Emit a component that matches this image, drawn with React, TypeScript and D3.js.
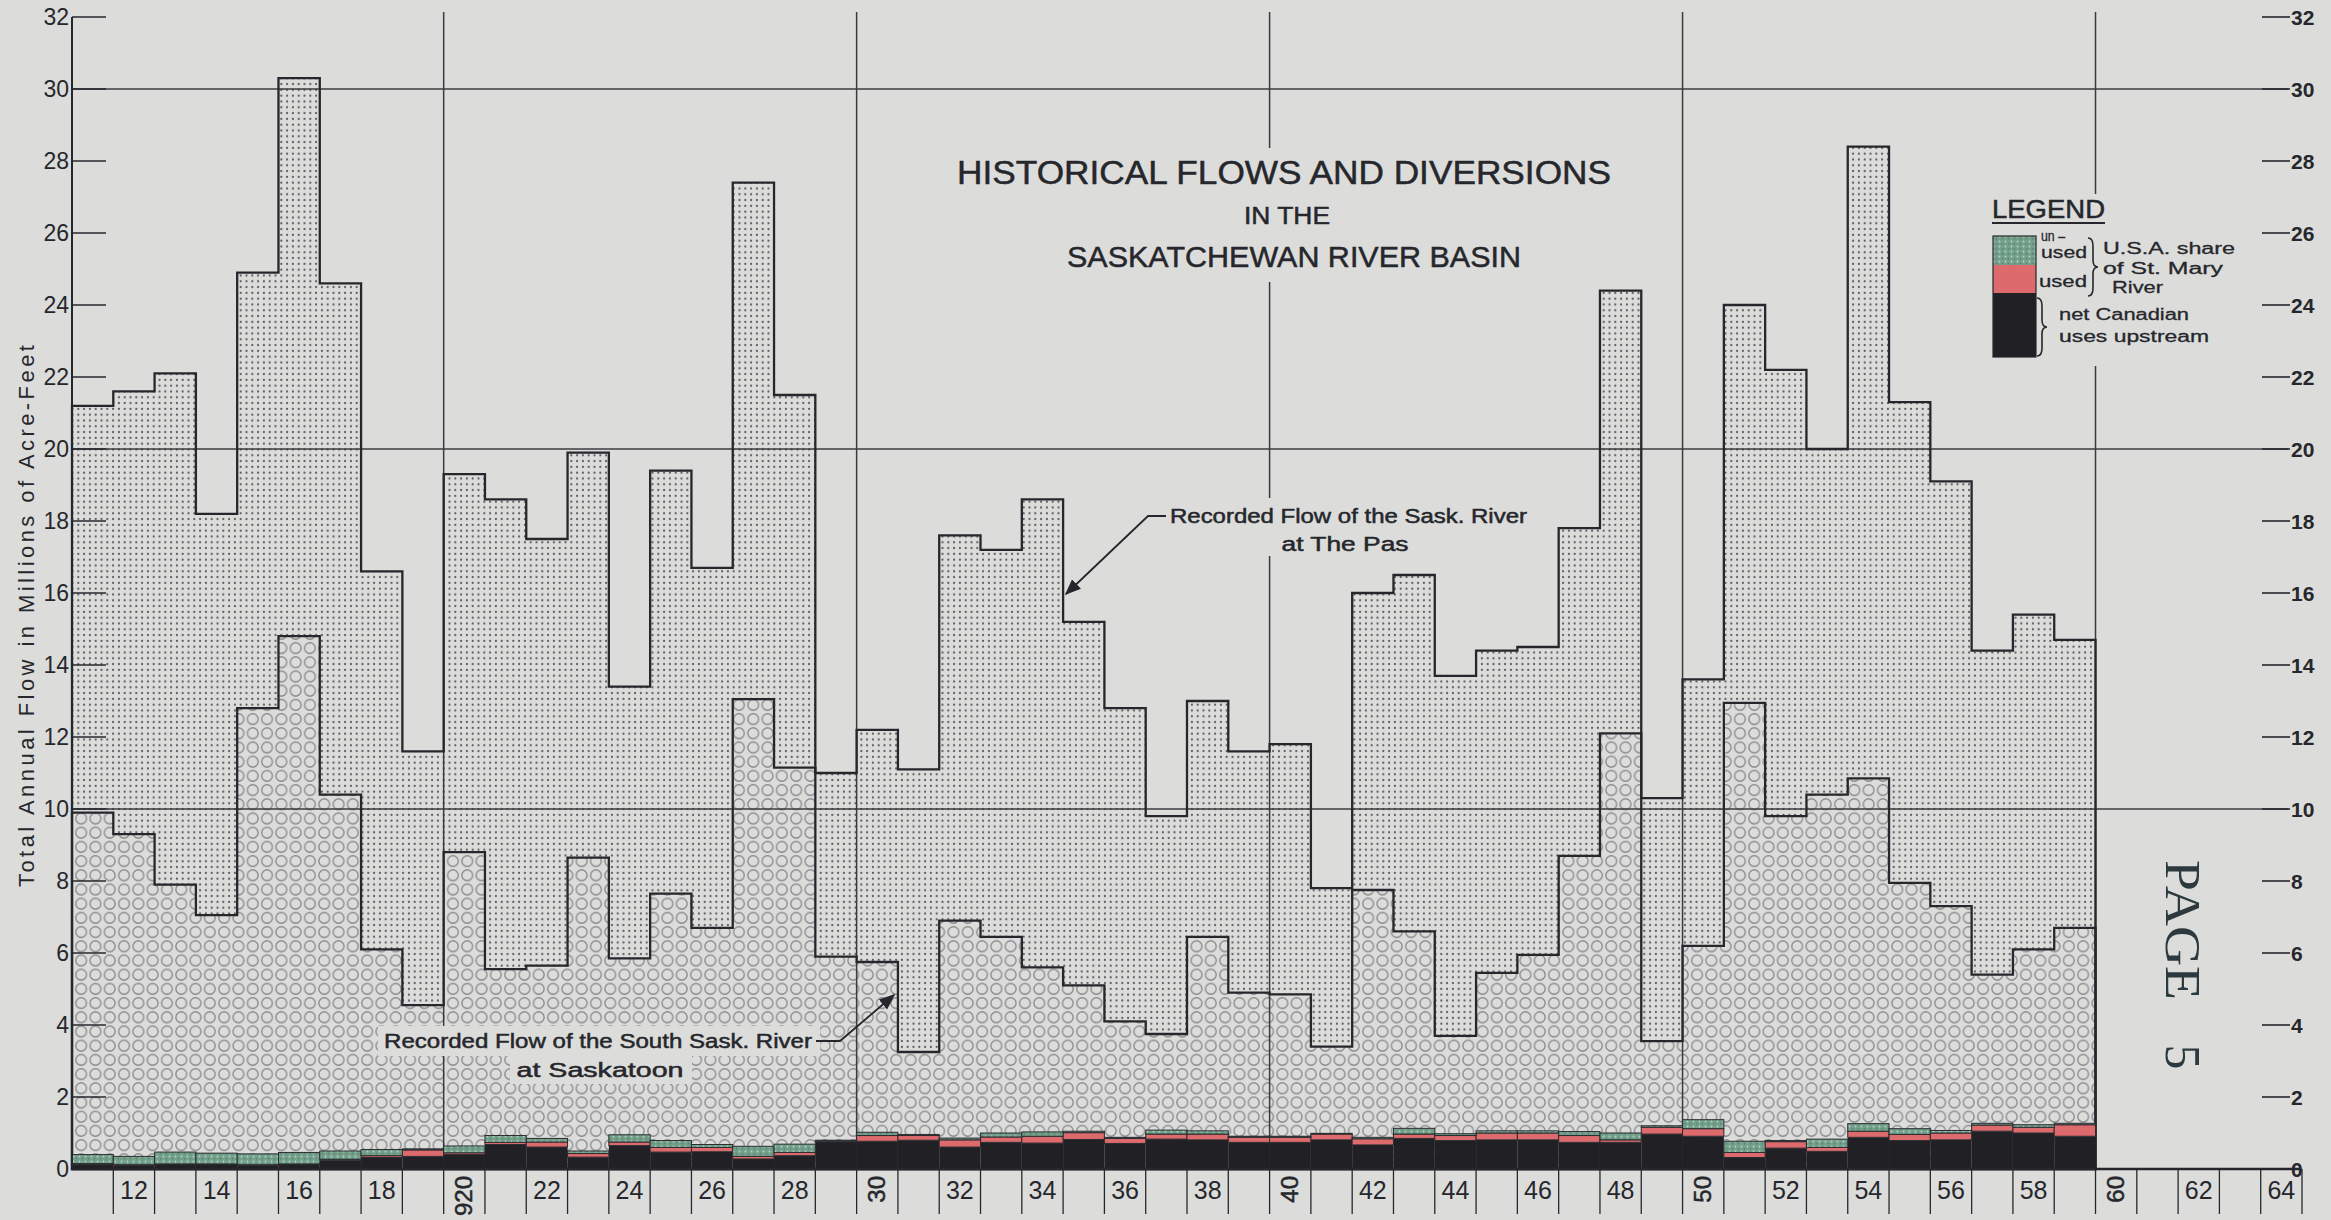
import React from 'react';
import * as d3 from 'd3';

// annual flows, millions of acre-feet, 1911..1959
const firstYear = 1911;
const pasFlow = [
  21.2, 21.6, 22.1, 18.2, 24.9, 30.3, 24.6, 16.6, 11.6,
  19.3, 18.6, 17.5, 19.9, 13.4, 19.4, 16.7, 27.4, 21.5, 11.0,
  12.2, 11.1, 17.6, 17.2, 18.6, 15.2, 12.8, 9.8, 13.0, 11.6,
  11.8, 7.8, 16.0, 16.5, 13.7, 14.4, 14.5, 17.8, 24.4, 10.3,
  13.6, 24.0, 22.2, 20.0, 28.4, 21.3, 19.1, 14.4, 15.4, 14.7,
];
const saskatoonFlow = [
  9.9, 9.3, 7.9, 7.05, 12.8, 14.8, 10.4, 6.1, 4.55,
  8.8, 5.55, 5.65, 8.65, 5.85, 7.65, 6.7, 13.05, 11.15, 5.9,
  5.75, 3.25, 6.9, 6.45, 5.6, 5.1, 4.1, 3.75, 6.45, 4.9,
  4.85, 3.4, 7.75, 6.6, 3.7, 5.45, 5.95, 8.7, 12.1, 3.55,
  6.2, 12.95, 9.8, 10.4, 10.85, 7.95, 7.3, 5.4, 6.1, 6.7,
];
const netCanadian = [
  0.12, 0.1, 0.12, 0.12, 0.1, 0.12, 0.24, 0.32, 0.35,
  0.4, 0.68, 0.61, 0.33, 0.65, 0.47, 0.48, 0.28, 0.37, 0.75,
  0.77, 0.8, 0.61, 0.74, 0.72, 0.82, 0.71, 0.83, 0.81, 0.74,
  0.74, 0.81, 0.67, 0.85, 0.79, 0.81, 0.81, 0.74, 0.74, 0.97,
  0.91, 0.32, 0.58, 0.49, 0.88, 0.79, 0.81, 1.05, 1.0, 0.91,
];
const usaUsed = [
  0.03, 0.02, 0.02, 0.02, 0.02, 0.02, 0.03, 0.05, 0.18,
  0.05, 0.06, 0.14, 0.1, 0.1, 0.13, 0.12, 0.07, 0.09, 0.02,
  0.16, 0.13, 0.2, 0.15, 0.19, 0.19, 0.14, 0.14, 0.16, 0.14,
  0.14, 0.16, 0.17, 0.12, 0.14, 0.19, 0.19, 0.19, 0.07, 0.19,
  0.21, 0.14, 0.18, 0.11, 0.17, 0.17, 0.19, 0.17, 0.16, 0.32,
];
const usaUnused = [
  0.25, 0.23, 0.33, 0.3, 0.3, 0.32, 0.23, 0.17, 0.03,
  0.19, 0.19, 0.1, 0.07, 0.2, 0.19, 0.08, 0.28, 0.23, 0.03,
  0.09, 0.03, 0.05, 0.11, 0.12, 0.04, 0.03, 0.11, 0.09, 0.03,
  0.03, 0.02, 0.04, 0.16, 0.05, 0.06, 0.06, 0.11, 0.19, 0.04,
  0.25, 0.31, 0.03, 0.23, 0.21, 0.16, 0.07, 0.05, 0.07, 0.04,
];

const yTicks = [0, 2, 4, 6, 8, 10, 12, 14, 16, 18, 20, 22, 24, 26, 28, 30, 32];
const gridValues = [10, 20, 30];
const decadeYears = [1920, 1930, 1940, 1950, 1960];
const decadeLabels = ['920', '30', '40', '50', '60'];
const evenYears = [1912, 1914, 1916, 1918, 1922, 1924, 1926, 1928, 1932, 1934, 1936, 1938,
  1942, 1944, 1946, 1948, 1952, 1954, 1956, 1958, 1962, 1964];
const evenLabels = ['12', '14', '16', '18', '22', '24', '26', '28', '32', '34', '36', '38',
  '42', '44', '46', '48', '52', '54', '56', '58', '62', '64'];

const paper = '#dcdddb';
const ink = '#26272c';
const font = '"Liberation Sans", Arial, sans-serif';

function brace(x: number, y0: number, y1: number, w: number) {
  const m = (y0 + y1) / 2;
  const h = w / 2;
  return `M${x},${y0} Q${x + h},${y0} ${x + h},${y0 + 8} L${x + h},${m - 7} Q${x + h},${m} ${x + w},${m} ` +
    `Q${x + h},${m} ${x + h},${m + 7} L${x + h},${y1 - 8} Q${x + h},${y1} ${x},${y1}`;
}

export default function App() {
  const W = 2331, H = 1220;
  const x = d3.scaleLinear().domain([1911, 1965]).range([72, 2302]);
  const y = d3.scaleLinear().domain([0, 32]).range([1169, 17]);

  const years = pasFlow.map((_, i) => firstYear + i);
  const endYear = years[years.length - 1] + 1;
  const steps = (vals: number[]) =>
    [...vals.map((v, i) => [years[i], v] as [number, number]), [endYear, vals[vals.length - 1]] as [number, number]];

  const area = d3.area<[number, number]>()
    .x(d => x(d[0]))
    .y0(y(0))
    .y1(d => y(d[1]))
    .curve(d3.curveStepAfter);

  const pasPath = area(steps(pasFlow)) || '';
  const sasPath = area(steps(saskatoonFlow)) || '';

  const stackRows = years.map((yr, i) => ({
    year: yr, net: netCanadian[i], used: usaUsed[i], unused: usaUnused[i],
  }));
  const series = d3.stack<any>().keys(['net', 'used', 'unused'])(stackRows);
  const stackColor: Record<string, string> = { net: '#202025', used: '#dd6a6d', unused: '#73a08b' };

  const allTicks = d3.range(1912, 1966);
  const bold = { stroke: ink, strokeWidth: 0.5 };

  return (
    <svg width={W} height={H} style={{ position: 'absolute', left: 0, top: 0, display: 'block', background: paper }}>
      <defs>
        <pattern id="dots" patternUnits="userSpaceOnUse" width={5.8} height={5.8}>
          <circle cx={2.9} cy={2.9} r={1.1} fill="#56585b" />
        </pattern>
        <pattern id="rings" patternUnits="userSpaceOnUse" width={14.3} height={14.2} x={74} y={2}>
          <circle cx={7.15} cy={7.1} r={5.4} fill="none" stroke="#85878a" strokeWidth={1.3} />
        </pattern>
        <pattern id="speckle" patternUnits="userSpaceOnUse" width={6} height={5}>
          <rect width={6} height={5} fill="#73a08b" />
          <circle cx={1.5} cy={1.5} r={0.9} fill="#b9d2c4" />
          <circle cx={4.5} cy={3.8} r={0.8} fill="#4d7c66" />
        </pattern>
        <marker id="arrow" viewBox="0 0 10 10" refX={9} refY={5} markerWidth={9} markerHeight={9} orient="auto">
          <path d="M0,1 L10,5 L0,9 Z" fill={ink} />
        </marker>
      </defs>
      <rect width={W} height={H} fill={paper} />

      {/* The Pas total flow */}
      <path d={pasPath} fill={paper} />
      <path d={pasPath} fill="url(#dots)" />
      {/* South Sask at Saskatoon */}
      <path d={sasPath} fill={paper} />
      <path d={sasPath} fill="url(#rings)" />

      {/* grid */}
      {gridValues.map(v => (
        <line key={'g' + v} x1={x(1911)} x2={2288} y1={y(v)} y2={y(v)} stroke="#3a3b3f" strokeWidth={1.6} />
      ))}
      {decadeYears.map(yr => (
        <line key={'d' + yr} x1={x(yr)} x2={x(yr)} y1={12} y2={y(0)} stroke="#3a3b3f" strokeWidth={1.5} />
      ))}

      {/* outlines */}
      <path d={pasPath} fill="none" stroke={ink} strokeWidth={2.3} />
      <path d={sasPath} fill="none" stroke={ink} strokeWidth={2.3} />

      {/* diversions stacks */}
      {series.map(s => (
        <g key={s.key}>
          {s.map((d, i) => (
            <rect key={i} x={x(years[i])} width={x(years[i] + 1) - x(years[i])}
              y={y(d[1])} height={Math.max(0, y(d[0]) - y(d[1]))}
              fill={s.key === 'unused' ? 'url(#speckle)' : stackColor[s.key]}
              stroke="#2b2c30" strokeWidth={s.key === 'net' ? 0 : 1} />
          ))}
        </g>
      ))}

      {/* axes */}
      <line x1={x(1911)} x2={x(1911)} y1={y(32)} y2={y(0)} stroke={ink} strokeWidth={2} />
      <line x1={x(1911)} x2={2300} y1={y(0)} y2={y(0)} stroke={ink} strokeWidth={2.5} />
      {yTicks.map(v => (
        <g key={'t' + v}>
          <line x1={x(1911)} x2={106} y1={y(v)} y2={y(v)} stroke={ink} strokeWidth={1.6} />
          <text x={69} y={y(v) + 8} textAnchor="end" fontFamily={font} fontSize={23} fill={ink}>{v}</text>
          <line x1={2262} x2={2290} y1={y(v)} y2={y(v)} stroke={ink} strokeWidth={1.6} />
          <text x={2291} y={y(v) + 8} textAnchor="start" fontFamily={font} fontSize={21} fontWeight={700} fill={ink}>{v}</text>
        </g>
      ))}
      {allTicks.map(yr => (
        <line key={'x' + yr} x1={x(yr)} x2={x(yr)} y1={y(0)} y2={1214} stroke={ink} strokeWidth={1.3} />
      ))}
      {evenYears.map((yr, i) => (
        <text key={'l' + yr} x={(x(yr) + x(yr + 1)) / 2} y={1199} textAnchor="middle"
          fontFamily={'"Liberation Sans Narrow", ' + font} fontSize={25} fill={ink}>{evenLabels[i]}</text>
      ))}
      {decadeYears.map((yr, i) => (
        <text key={'r' + yr} transform={`translate(${(x(yr) + x(yr + 1)) / 2 + 8},1176) rotate(-90)`}
          textAnchor="end" fontFamily={font} fontSize={24} fill={ink} {...bold}>{decadeLabels[i]}</text>
      ))}

      <text transform="translate(34,616) rotate(-90)" textAnchor="middle" fontFamily={font} fontSize={22}
        textLength={542} lengthAdjust="spacing" fill={ink}>Total Annual Flow in Millions of Acre-Feet</text>

      {/* title */}
      <rect x={945} y={148} width={680} height={134} fill={paper} />
      <g fill={ink} {...bold} fontFamily={font}>
        <text x={1284} y={184} textAnchor="middle" fontSize={33} textLength={654}
          lengthAdjust="spacingAndGlyphs">HISTORICAL FLOWS AND DIVERSIONS</text>
        <text x={1287} y={224} textAnchor="middle" fontSize={23} textLength={86}
          lengthAdjust="spacingAndGlyphs">IN THE</text>
        <text x={1294} y={267} textAnchor="middle" fontSize={29} textLength={454}
          lengthAdjust="spacingAndGlyphs">SASKATCHEWAN RIVER BASIN</text>
      </g>

      {/* The Pas annotation */}
      <rect x={1165} y={498} width={368} height={58} fill={paper} />
      <text x={1170} y={523} fontFamily={font} fontSize={20} textLength={357} lengthAdjust="spacingAndGlyphs"
        fill={ink} {...bold}>Recorded Flow of the Sask. River</text>
      <text x={1345} y={551} textAnchor="middle" fontFamily={font} fontSize={20} textLength={127}
        lengthAdjust="spacingAndGlyphs" fill={ink} {...bold}>at The Pas</text>
      <path d="M1166,516 L1148,516 L1066,594" fill="none" stroke={ink} strokeWidth={1.8} markerEnd="url(#arrow)" />

      {/* Saskatoon annotation */}
      <rect x={378} y={1026} width={442} height={30} fill={paper} />
      <rect x={510} y={1056} width={182} height={28} fill={paper} />
      <text x={384} y={1048} fontFamily={font} fontSize={20} textLength={428} lengthAdjust="spacingAndGlyphs"
        fill={ink} {...bold}>Recorded Flow of the South Sask. River</text>
      <text x={600} y={1077} textAnchor="middle" fontFamily={font} fontSize={20} textLength={167}
        lengthAdjust="spacingAndGlyphs" fill={ink} {...bold}>at Saskatoon</text>
      <path d="M816,1041 L840,1041 L894,995" fill="none" stroke={ink} strokeWidth={1.8} markerEnd="url(#arrow)" />

      {/* legend */}
      <rect x={1986} y={194} width={160} height={172} fill={paper} />
      <text x={1992} y={218} fontFamily={font} fontSize={25} textLength={113} lengthAdjust="spacingAndGlyphs"
        fill={ink} {...bold}>LEGEND</text>
      <line x1={1992} x2={2105} y1={223} y2={223} stroke={ink} strokeWidth={2.2} />
      <rect x={1993} y={236} width={43} height={29} fill="url(#speckle)" />
      <rect x={1993} y={265} width={43} height={28} fill="#dd6a6d" />
      <rect x={1993} y={293} width={43} height={64} fill="#202025" />
      <rect x={1993} y={236} width={43} height={121} fill="none" stroke={ink} strokeWidth={1.2} />
      <g fontFamily={font} fill={ink} fontSize={16} {...bold} strokeWidth={0.3}>
        <text x={2041} y={241} fontSize={14} textLength={24} lengthAdjust="spacingAndGlyphs">un –</text>
        <text x={2041} y={258} textLength={46} lengthAdjust="spacingAndGlyphs">used</text>
        <text x={2039} y={287} textLength={48} lengthAdjust="spacingAndGlyphs">used</text>
        <text x={2103} y={254} textLength={132} lengthAdjust="spacingAndGlyphs">U.S.A. share</text>
        <text x={2103} y={274} textLength={120} lengthAdjust="spacingAndGlyphs">of St. Mary</text>
        <text x={2112} y={293} textLength={51} lengthAdjust="spacingAndGlyphs">River</text>
        <text x={2059} y={320} textLength={130} lengthAdjust="spacingAndGlyphs">net Canadian</text>
        <text x={2059} y={342} textLength={150} lengthAdjust="spacingAndGlyphs">uses upstream</text>
      </g>
      <path d={brace(2088, 238, 296, 10)} fill="none" stroke={ink} strokeWidth={1.6} />
      <path d={brace(2037, 298, 356, 10)} fill="none" stroke={ink} strokeWidth={1.6} />

      {/* page number */}
      <g fontFamily='"Liberation Serif", serif' fontSize={50} fill="#2c3a40">
        <text transform="translate(2166,930) rotate(90)" textAnchor="middle" textLength={140}
          lengthAdjust="spacingAndGlyphs">PAGE</text>
        <text transform="translate(2166,1057) rotate(90)" textAnchor="middle">5</text>
      </g>
    </svg>
  );
}
